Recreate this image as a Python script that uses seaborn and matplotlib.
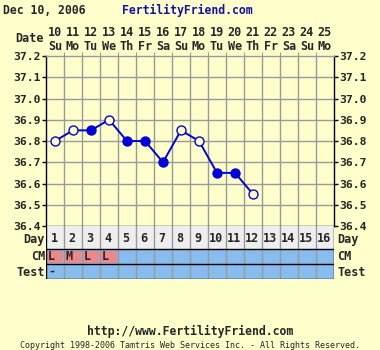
import matplotlib
matplotlib.use("Agg")
import matplotlib.pyplot as plt
import seaborn as sns
import numpy as np
import pandas as pd
from matplotlib.patches import Rectangle

sns.set_style("white")
plt.rcParams['font.family'] = ['DejaVu Sans Mono', 'DejaVu Sans']

# ---- data ----
dates = [10, 11, 12, 13, 14, 15, 16, 17, 18, 19, 20, 21, 22, 23, 24, 25]
weekdays = ["Su", "Mo", "Tu", "We", "Th", "Fr", "Sa", "Su", "Mo", "Tu", "We", "Th", "Fr", "Sa", "Su", "Mo"]
cycle_days = list(range(1, 17))
temp_days = [1, 2, 3, 4, 5, 6, 7, 8, 9, 10, 11, 12]
temps = [36.80, 36.85, 36.85, 36.90, 36.80, 36.80, 36.70, 36.85, 36.80, 36.65, 36.65, 36.55]
filled = [False, False, True, False, True, True, True, False, False, True, True, False]
cm_values = ["L", "M", "L", "L"]
test_values = ["-"]
y_ticks = [36.4, 36.5, 36.6, 36.7, 36.8, 36.9, 37.0, 37.1, 37.2]

BG = "#FFFFCC"
LINE = "#0000DD"
GRID = "#999999"
DAYROW = "#EEEEEE"
BLUEROW = "#88BBEE"
PINK = "#EE8888"

W, H = 380, 350
fig = plt.figure(figsize=(3.8, 3.5), dpi=100, facecolor=BG)

def fx(x):
    return x / W

def fy(y):
    return 1 - y / H

L, R, T, B = 46, 334, 56, 226
ax = fig.add_axes([fx(L), fy(B), fx(R - L), (B - T) / H])
ax.set_facecolor(BG)
ax.set_xlim(0.5, 16.5)
ax.set_ylim(36.4, 37.2)

# grid
for xb in np.arange(1.5, 16.5, 1):
    ax.axvline(xb, color=GRID, lw=1, zorder=1)
for yt in y_ticks[1:-1]:
    ax.axhline(yt, color=GRID, lw=1, zorder=1)

df = pd.DataFrame({"day": temp_days, "temp": temps, "filled": filled})
sns.lineplot(data=df, x="day", y="temp", ax=ax, color=LINE, lw=1.4, zorder=3)
sns.scatterplot(data=df[df.filled], x="day", y="temp", ax=ax, color=LINE,
                s=42, edgecolor=LINE, linewidth=1, zorder=4)
sns.scatterplot(data=df[~df.filled], x="day", y="temp", ax=ax, color=BG,
                s=42, edgecolor=LINE, linewidth=1, zorder=4)

ax.set_xlabel("")
ax.set_ylabel("")
ax.set_yticks(y_ticks)
ax.set_yticklabels([f"{v:.1f}" for v in y_ticks])
ax.tick_params(axis="y", which="both", left=True, right=True, labelleft=True,
               labelright=True, length=3, width=1, color="black", pad=1,
               labelsize=8.2)
for lab in ax.get_yticklabels():
    lab.set_fontweight("bold")
ax.set_xticks(np.arange(1.5, 16.5, 1))
ax.tick_params(axis="x", which="both", bottom=False, top=True, labelbottom=False,
               length=3, color=GRID, direction="out")
for s in ["left", "right", "bottom"]:
    ax.spines[s].set_color("black")
    ax.spines[s].set_linewidth(1)
ax.spines["top"].set_color(GRID)
ax.spines["top"].set_linewidth(1)

# ---- table ----
TB = 279
tax = fig.add_axes([fx(L), fy(TB), fx(R - L), (TB - B) / H])
tax.set_xlim(0.5, 16.5)
tax.set_ylim(TB - B, 0)
tax.axis("off")
rows = [(0, 23, DAYROW), (23, 38, BLUEROW), (38, 53, BLUEROW)]
for y0, y1, c in rows:
    tax.add_patch(Rectangle((0.5, y0), 16, y1 - y0, facecolor=c, edgecolor="none", zorder=1))
for i, v in enumerate(cm_values):
    d = cycle_days[i]
    tax.add_patch(Rectangle((d - 0.5 + 0.06, 23 + 1.5), 0.88, 12, facecolor=PINK,
                            edgecolor="none", zorder=2))
    tax.text(d - 0.2, 30.5, v, ha="center", va="center", fontsize=8.5, fontweight="bold", zorder=3)
for i, v in enumerate(test_values):
    d = cycle_days[i]
    tax.text(d - 0.2, 45.5, v, ha="center", va="center", fontsize=8.5, fontweight="bold", zorder=3)
for xb in np.arange(1.5, 16.5, 1):
    tax.plot([xb, xb], [0, 53], color=GRID, lw=1, zorder=4)
for yb in [23, 38, 53]:
    tax.plot([0.5, 16.5], [yb, yb], color="black", lw=1, zorder=5)
tax.plot([0.5, 0.5], [0, 53], color="black", lw=1, zorder=5)
tax.plot([16.5, 16.5], [0, 53], color="black", lw=1, zorder=5)
for d in cycle_days:
    tax.text(d - 0.05, 12.5, str(d), ha="center", va="center", fontsize=8.5, fontweight="bold")

# side labels for table
for label, yy in [("Day", 239.5), ("CM", 256), ("Test", 272)]:
    fig.text(fx(45), fy(yy), label, ha="right", va="center", fontsize=8.5, fontweight="bold")
    fig.text(fx(337), fy(yy), label, ha="left", va="center", fontsize=8.5, fontweight="bold")

# ---- header ----
fig.text(fx(3), fy(10), "Dec 10, 2006", ha="left", va="center", fontsize=8.3, fontweight="bold")
fig.text(fx(122), fy(10), "FertilityFriend.com", ha="left", va="center", fontsize=8.3,
         fontweight="bold", color="#1111AA")
fig.text(fx(44), fy(39), "Date", ha="right", va="center", fontsize=8.5, fontweight="bold")
for i, (d, wd) in enumerate(zip(dates, weekdays)):
    xc = L + (i + 0.5) * (R - L) / 16
    fig.text(fx(xc), fy(33), str(d), ha="center", va="center", fontsize=8.5, fontweight="bold")
    fig.text(fx(xc), fy(46), wd, ha="center", va="center", fontsize=8.5, fontweight="bold")

# ---- footer ----
fig.text(0.5, fy(331), "http://www.FertilityFriend.com", ha="center", va="center",
         fontsize=8.3, fontweight="bold")
fig.text(0.5, fy(345), "Copyright 1998-2006 Tamtris Web Services Inc. - All Rights Reserved.",
         ha="center", va="center", fontsize=6)

fig.savefig("out.png", dpi=100, facecolor=BG)
